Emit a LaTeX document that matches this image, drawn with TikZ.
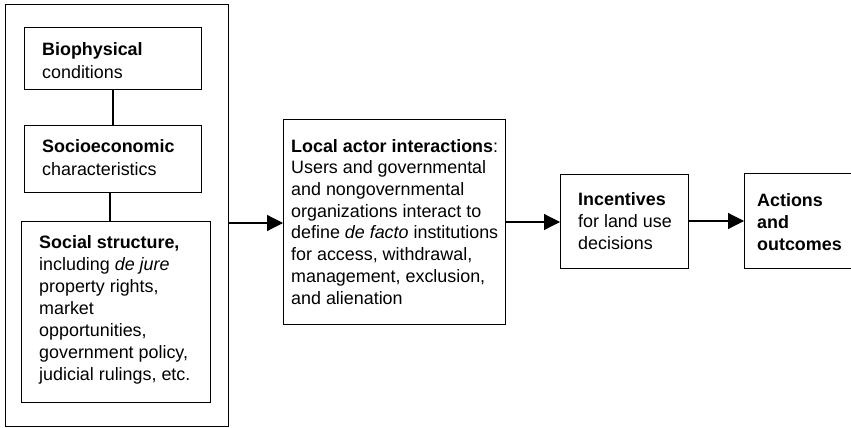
\documentclass[tikz,border=0pt]{standalone}
\usepackage{fontspec}
\setmainfont{Liberation Sans}
\usetikzlibrary{arrows.meta}
\tikzset{
  box/.style={draw, line width=1.2pt, inner sep=0pt, anchor=north west},
  txt/.style={anchor=base west, align=left, inner sep=0pt, font=\fontsize{17.9}{21.7}\selectfont},
  txtm/.style={anchor=base west, align=left, inner sep=0pt, font=\fontsize{17.9}{22}\selectfont},
  txtb/.style={anchor=base west, align=left, inner sep=0pt, font=\fontsize{17.9}{23}\selectfont},
  conn/.style={line width=1.2pt},
  arr/.style={line width=1.2pt, -{Triangle[length=16pt,width=16pt]}}
}
\begin{document}
\begin{tikzpicture}[x=1pt,y=-1pt]
\useasboundingbox (0,0) rectangle (851,428);
% boxes
\node[box, minimum width=223pt, minimum height=422pt] (outer) at (5,4) {};
\node[box, minimum width=177pt, minimum height=62pt] (bio) at (24,27) {};
\node[box, minimum width=177pt, minimum height=67pt] (soc) at (24,125) {};
\node[box, minimum width=189pt, minimum height=181pt] (ss) at (21,221) {};
\node[box, minimum width=222pt, minimum height=205pt] (local) at (283,119) {};
\node[box, minimum width=128pt, minimum height=94pt] (inc) at (560,174) {};
\node[box, minimum width=120pt, minimum height=95pt] (act) at (744,173) {};
% texts (anchored at the baseline of their last line)
\node[txtb] (biot) at (42,78.5) {\textbf{Biophysical}\\conditions};
\node[txtb] (soct) at (42,175.7) {\textbf{Socioeconomic}\\characteristics};
\node[txtm] (sst) at (39,380) {\textbf{Social structure,}\\including \textit{de jure}\\property rights,\\market\\opportunities,\\government policy,\\judicial rulings, etc.};
\node[txt] (localt) at (291,304) {\textbf{Local actor interactions}:\\Users and governmental\\and nongovernmental\\organizations interact to\\define \textit{de facto} institutions\\for access, withdrawal,\\management, exclusion,\\and alienation};
\node[txtm] (inct) at (578,249.3) {\textbf{Incentives}\\for land use\\decisions};
\node[txtm] (actt) at (757,250) {\textbf{Actions}\\\textbf{and}\\\textbf{outcomes}};
% connectors
\draw[conn] (bio.south -| 113,0) -- (soc.north -| 113,0);
\draw[conn] (soc.south -| 110,0) -- (ss.north -| 110,0);
\coordinate (a1) at (outer.east |- 0,223);
\draw[arr] (a1) -- (local.west |- a1);
\coordinate (a2) at (local.east |- 0,222);
\draw[arr] (a2) -- (inc.west |- a2);
\coordinate (a3) at (inc.east |- 0,221);
\draw[arr] (a3) -- (act.west |- a3);
\end{tikzpicture}
\end{document}
